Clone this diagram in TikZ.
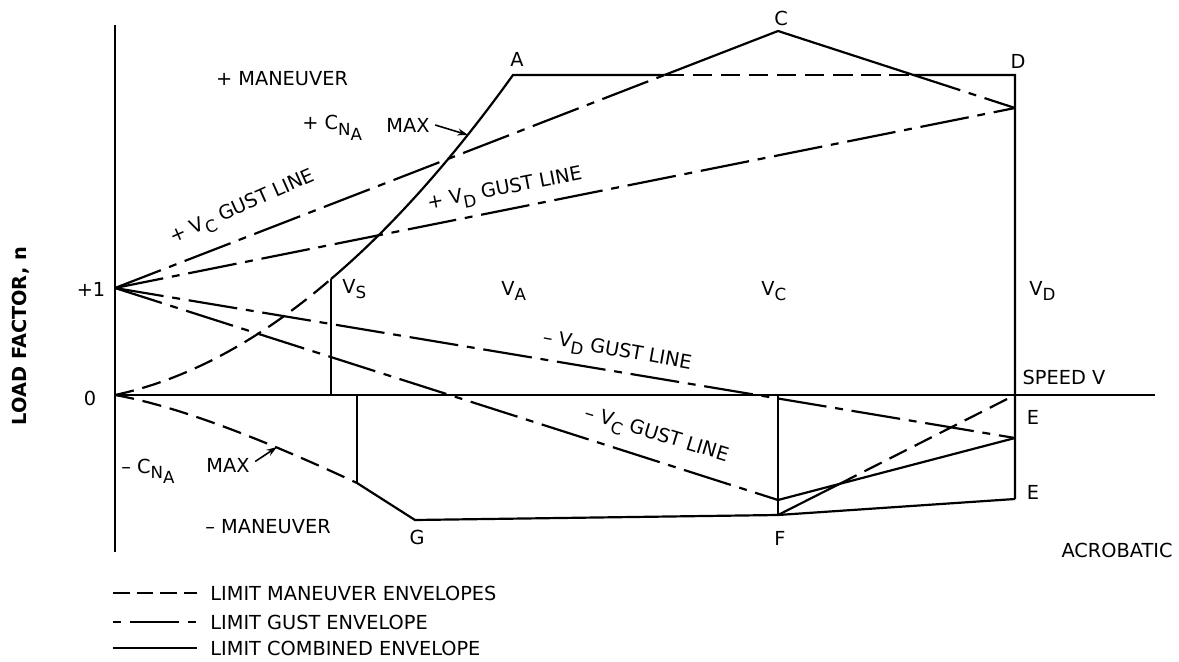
\documentclass[tikz,border=0pt]{standalone}
\usepackage{fontspec}
\setmainfont{DejaVu Sans}
\usetikzlibrary{arrows.meta}
\newcommand{\lowsub}[1]{\raisebox{-0.55ex}{\fontsize{9.5}{10}\selectfont #1}}

\begin{document}
\begin{tikzpicture}[x=0.02cm,y=-0.02cm,line join=miter,
		font=\fontsize{11}{13}\selectfont,
		envelope/.style={line width=1.25pt},
		maneuver/.style={line width=1.25pt,dash pattern=on 11pt off 5pt},
		gust/.style={line width=1.25pt,dash pattern=on 28pt off 5pt on 4.5pt off 5pt},
		lbl/.style={inner sep=0pt},
		>={Stealth[length=6pt,width=4pt]}]
	\useasboundingbox (0,0) rectangle (1179,662);
	% punti del diagramma
	\coordinate (O) at (115,395);
	\coordinate (P1) at (115,288);
	\coordinate (ytop) at (115,25);
	\coordinate (ybot) at (115,552);
	\coordinate (xend) at (1155,395);
	\coordinate (A) at (513,75);
	\coordinate (C) at (778,31);
	\coordinate (D) at (1015,75);
	\coordinate (GD) at (1015,108);
	\coordinate (VS) at (331,279);
	\coordinate (VSn) at (357,483);
	\coordinate (G) at (415,520);
	\coordinate (F) at (778,515);
	\coordinate (FC) at (778,500);
	\coordinate (E0) at (1015,395);
	\coordinate (E1) at (1015,438);
	\coordinate (E2) at (1015,499);
	\coordinate (X1) at (intersection of P1--C and A--D);
	\coordinate (X2) at (intersection of C--GD and A--D);
	\coordinate (X3) at (intersection of F--E0 and FC--E1);
	% assi
	\draw[envelope] (ytop) -- (ybot);
	\draw[envelope] (O) -- (xend);
	% manovra positiva
	\draw[maneuver] (O) .. controls (187,379.5) and (259,341) .. (VS);
	\draw[envelope] (VS) .. controls (391.7,227.5) and (452.3,159.4) .. (A) -- (X1);
	\draw[maneuver] (X1) -- (X2);
	\draw[envelope] (X2) -- (D) -- (E2);
	% raffiche positive
	\draw[gust] (P1) -- (X1);
	\draw[envelope] (X1) -- (C) -- (X2);
	\draw[gust] (X2) -- (GD);
	\draw[gust] (P1) -- (GD);
	% verticali
	\draw[envelope] (VS) -- (VS |- O);
	\draw[envelope] (VSn |- O) -- (VSn);
	\draw[envelope] (C |- O) -- (F);
	% manovra negativa
	\draw[maneuver] (O) .. controls (171.7,405) and (252.3,434.3) .. (VSn);
	\draw[envelope] (VSn) -- (G) -- (F) -- (E2);
	\draw[envelope] (F) -- (X3);
	\draw[maneuver] (X3) -- (E0);
	% raffiche negative
	\draw[gust] (P1) -- (FC);
	\draw[envelope] (FC) -- (E1);
	\draw[gust] (P1) -- (E1);
	% etichette
	\node[lbl] (nA) at (517,59) {A};
	\node[lbl] (nC) at (781,18) {C};
	\node[lbl] (nD) at (1018,61) {D};
	\node[lbl] (nE1) at (1033,417) {E};
	\node[lbl] (nE2) at (1033,492) {E};
	\node[lbl] (nF) at (780,538) {F};
	\node[lbl] (nG) at (417,537) {G};
	\node[lbl] (one) at (91,289) {+1};
	\node[lbl] (zero) at (90,398) {0};
	\node[lbl] (speed) at (1064,377) {SPEED V};
	\node[lbl] (acro) at (1117,550) {ACROBATIC};
	\node[lbl] (pman) at (282,79) {+ MANEUVER};
	\node[lbl] (nman) at (268,527) {– MANEUVER};
	\node[lbl,anchor=base west] (pcn) at (302,130) {+ C\lowsub{N\lowsub{A}}};
	\node[lbl,anchor=base west] (ncn) at (121,473) {– C\lowsub{N\lowsub{A}}};
	\node[lbl,anchor=base west] (vs) at (342,293) {V\lowsub{S}};
	\node[lbl,anchor=base west] (va) at (501,295) {V\lowsub{A}};
	\node[lbl,anchor=base west] (vc) at (761,295) {V\lowsub{C}};
	\node[lbl,anchor=base west] (vd) at (1029,295) {V\lowsub{D}};
	\node[lbl,rotate=24] (gvc) at (243,208) {+ V\lowsub{C} GUST LINE};
	\node[lbl,rotate=11] (gvd) at (505,190) {+ V\lowsub{D} GUST LINE};
	\node[lbl,rotate=-10] (ngvd) at (617,352) {– V\lowsub{D} GUST LINE};
	\node[lbl,rotate=-17] (ngvc) at (656,436) {– V\lowsub{C} GUST LINE};
	\node[lbl,rotate=90,font=\fontsize{11}{13}\selectfont\bfseries] (nlab) at (21,336) {LOAD FACTOR, n};
	% frecce MAX
	\node[lbl] (maxu) at (408,125) {MAX};
	\node[lbl] (maxl) at (228,465) {MAX};
	\coordinate (tipu) at (468,135);
	\coordinate (tipl) at (277,447);
	\draw[->,line width=0.9pt] ([xshift=3pt]maxu.east) -- (tipu);
	\draw[->,line width=0.9pt] ([xshift=3pt,yshift=2pt]maxl.east) -- (tipl);
	% legenda
	\coordinate (la1) at (113,593); \coordinate (lb1) at (197,593);
	\coordinate (la2) at (113,622); \coordinate (lb2) at (197,622);
	\coordinate (la3) at (113,648); \coordinate (lb3) at (197,648);
	\draw[line width=1.25pt,dash pattern=on 9.5pt off 4pt] (la1) -- (lb1);
	\draw[line width=1.25pt,dash pattern=on 28pt off 5pt on 4.5pt off 5pt,dash phase=33pt] (la2) -- (lb2);
	\draw[envelope] (la3) -- (lb3);
	\node[lbl,anchor=west] (leg1) at (210,593) {LIMIT MANEUVER ENVELOPES};
	\node[lbl,anchor=west] (leg2) at (210,622) {LIMIT GUST ENVELOPE};
	\node[lbl,anchor=west] (leg3) at (210,648) {LIMIT COMBINED ENVELOPE};
\end{tikzpicture}
\end{document}
